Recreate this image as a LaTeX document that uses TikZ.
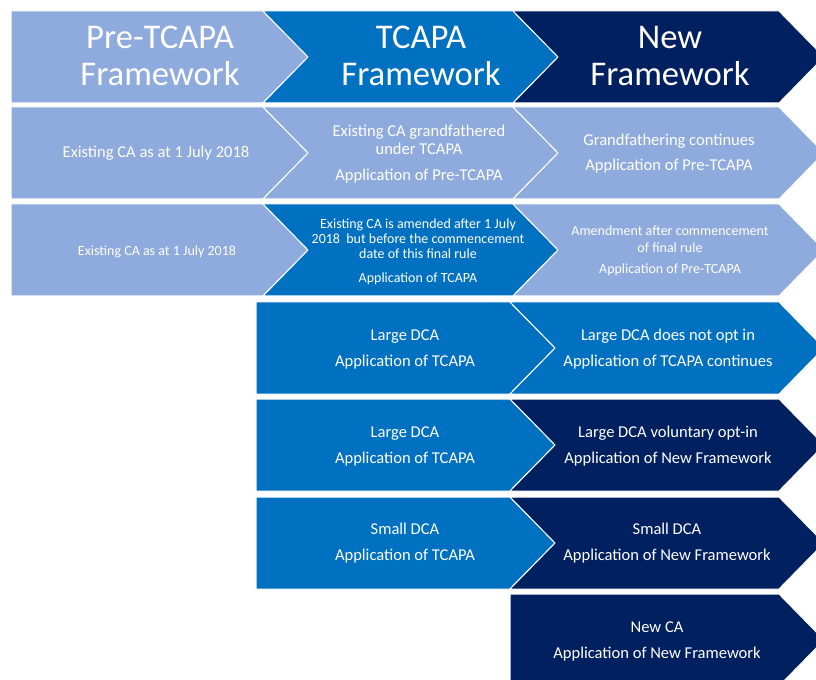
\documentclass[tikz,border=0pt]{standalone}
\usepackage{fontspec}
\setmainfont{Carlito}
\definecolor{paleblue}{HTML}{8FAADC}
\definecolor{midblue}{HTML}{0070C0}
\definecolor{navyblue}{HTML}{002060}
% chevron band: left x, right x, centre y, notch depth, fill colour
\newcommand{\chev}[5]{%
  \filldraw[fill=#5, draw=white, line width=0.75pt] (#1,#3-46) -- (#2,#3-46) -- (#2+45,#3)
    -- (#2,#3+46) -- (#1,#3+46) -- (#1+#4,#3) -- cycle;}

\begin{document}
\begin{tikzpicture}[x=0.75pt, y=-0.75pt,
    headtext/.style={text=white, align=center, font=\fontsize{26}{27.75}\selectfont},
    celltext/.style={text=white, align=center, font=\fontsize{12.4}{13.5}\selectfont},
    finetext/.style={text=white, align=center, font=\fontsize{10.5}{11.25}\selectfont}]
\clip (0,0) rectangle (816,680);

\chev{11}{263}{57}{0}{paleblue}
\chev{263}{513}{57}{45}{midblue}
\chev{513}{779}{57}{45}{navyblue}
\node[headtext] (pre) at (160,56) {Pre-TCAPA\\Framework};
\node[headtext] (tcapa) at (421,56) {TCAPA\\Framework};
\node[headtext] (newfw) at (670,56) {New\\Framework};

\chev{11}{263}{153}{0}{paleblue}
\chev{263}{513}{153}{45}{paleblue}
\chev{513}{779}{153}{45}{paleblue}
\node[celltext] (existA) at (156,153) {Existing CA as at 1 July 2018};
\node[celltext] (grand) at (419,154) {Existing CA grandfathered\\under TCAPA\\[5.5pt]Application of Pre-TCAPA};
\node[celltext] (grandcont) at (669,153.5) {Grandfathering continues\\[5.5pt]Application of Pre-TCAPA};

\chev{11}{263}{250}{0}{paleblue}
\chev{263}{513}{250}{45}{midblue}
\chev{513}{779}{250}{45}{paleblue}
\node[finetext] (existB) at (157,251.5) {Existing CA as at 1 July 2018};
\node[finetext] (amended) at (418,252) {Existing CA is amended after 1 July\\2018~ but before the commencement\\date of this final rule\\[6.5pt]Application of TCAPA};
\node[finetext, font=\fontsize{10.5}{12.75}\selectfont] (amendlate) at (670,251) {Amendment after commencement\\of final rule\\[3pt]Application of Pre-TCAPA};

\chev{256}{510}{348}{0}{midblue}
\chev{510}{779}{348}{45}{midblue}
\node[celltext] (largeA) at (405,349) {Large DCA\\[6pt]Application of TCAPA};
\node[celltext] (noopt) at (668,349) {Large DCA does not opt in\\[6pt]Application of TCAPA continues};

\chev{256}{510}{445}{0}{midblue}
\chev{510}{779}{445}{45}{navyblue}
\node[celltext] (largeB) at (405,446) {Large DCA\\[6pt]Application of TCAPA};
\node[celltext] (optin) at (668,446) {Large DCA voluntary opt-in\\[6pt]Application of New Framework};

\chev{256}{510}{543}{0}{midblue}
\chev{510}{779}{543}{45}{navyblue}
\node[celltext] (smallA) at (405,543) {Small DCA\\[6pt]Application of TCAPA};
\node[celltext] (smallB) at (667,543) {Small DCA\\[6pt]Application of New Framework};

\chev{510}{779}{640}{0}{navyblue}
\node[celltext] (newca) at (657,641) {New CA\\[6pt]Application of New Framework};
\end{tikzpicture}
\end{document}
